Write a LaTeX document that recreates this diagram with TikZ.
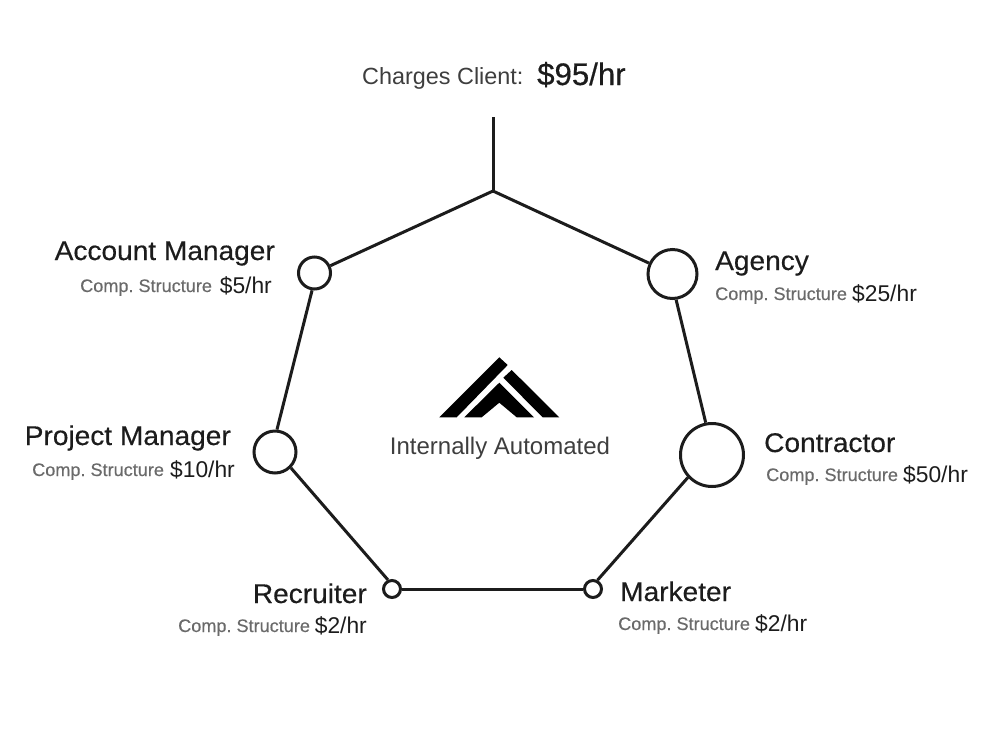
\documentclass[tikz,border=0pt]{standalone}
\usepackage{fontspec}
\setmainfont{Liberation Sans}
\newfontfamily\titlefont[FakeBold=0.35,FakeStretch=1.04]{Liberation Sans}
\newfontfamily\compfont[FakeBold=0.4]{Liberation Sans}
\newfontfamily\pricefont[FakeBold=0.5]{Liberation Sans}
\frenchspacing
\begin{document}
\begin{tikzpicture}[
  x=1pt, y=-1pt,
  %% Node styles
  stage/.style={draw=inkc, line width=3pt, fill=white, circle, inner sep=0pt},
  link/.style={draw=inkc, line width=3pt},
  title/.style={inner sep=0pt, text=inkc, font=\titlefont\fontsize{27}{30}\selectfont},
  comp/.style={inner sep=0pt, text=compc, font=\compfont\fontsize{18.1}{22}\selectfont},
  rate/.style={inner sep=0pt, text=inkc, font=\fontsize{22.8}{25}\selectfont},
  plain/.style={inner sep=0pt, text=inkc!85!white, font=\fontsize{24}{28}\selectfont},
  logopart/.style={fill=black, draw=none},
]
\definecolor{inkc}{HTML}{1C1C1C}
\definecolor{compc}{HTML}{6A6A6A}
\useasboundingbox (0,0) rectangle (999,729);

%% ── STAGES ────────────────────────────────────────────────────────────────
\coordinate (top) at (493,117);
\coordinate (apex) at (493,191);
\node[stage, minimum size=32pt] (account) at (314.5,273) {};
\node[stage, minimum size=49pt] (agency) at (672.5,274) {};
\node[stage, minimum size=63pt] (contractor) at (712,455) {};
\node[stage, minimum size=42pt] (project) at (275,452) {};
\node[stage, minimum size=17pt] (recruiter) at (392,589) {};
\node[stage, minimum size=17pt] (marketer) at (593,589) {};

%% Links
\draw[link] (top) -- (apex);
\draw[link] (apex) -- (account);
\draw[link] (apex) -- (agency);
\draw[link] (agency.-82) -- (contractor.101);
\draw[link] (contractor.-137) -- (marketer.63);
\draw[link] (marketer) -- (recruiter);
\draw[link] (recruiter.114) -- (project.-45);
\draw[link] (project.85) -- (account.-98);

%% ── HEADER ────────────────────────────────────────────────────────────────
\node[plain, anchor=base west, font=\fontsize{23.4}{28}\selectfont] (charges) at (362,84) {Charges Client:};
\node[inner sep=0pt, anchor=base west, text=inkc, font=\pricefont\fontsize{31.2}{36}\selectfont] (price) at (537,85) {\$95/hr};

%% ── LOGO ──────────────────────────────────────────────────────────────────
\fill[logopart] (499.3,357.3) -- (507.7,365) -- (456.7,417.3) -- (439.3,417.3) -- cycle;
\fill[logopart] (511.7,370) -- (559.3,417.3) -- (542.7,417.3) -- (503.3,377.7) -- cycle;
\fill[logopart] (499.3,382.7) -- (534,417.3) -- (516.7,417.3) -- (499.3,402.7) -- (481.7,417.3) -- (464.3,417.3) -- cycle;
\node[plain, anchor=base] (centre) at (500,454) {Internally Automated};

%% ── LEFT LABELS ───────────────────────────────────────────────────────────
\node[title, anchor=base east] (accountT) at (275,260) {Account Manager};
\node[comp, anchor=base west] (accountC) at (80,292) {Comp. Structure};
\node[rate, anchor=base east] (accountR) at (272,293) {\$5/hr};

\node[title, anchor=base east] (projectT) at (231,445) {Project Manager};
\node[comp, anchor=base west] (projectC) at (32,476) {Comp. Structure};
\node[rate, anchor=base east] (projectR) at (235,477) {\$10/hr};

\node[title, anchor=base east] (recruiterT) at (367,603) {Recruiter};
\node[comp, anchor=base west] (recruiterC) at (178,632) {Comp. Structure};
\node[rate, anchor=base east] (recruiterR) at (367,633) {\$2/hr};

%% ── RIGHT LABELS ──────────────────────────────────────────────────────────
\node[title, anchor=base west] (agencyT) at (715,270) {Agency};
\node[comp, anchor=base west] (agencyC) at (715,300) {Comp. Structure};
\node[rate, anchor=base west] (agencyR) at (852,301) {\$25/hr};

\node[title, anchor=base west] (contractorT) at (764,452) {Contractor};
\node[comp, anchor=base west] (contractorC) at (766,481) {Comp. Structure};
\node[rate, anchor=base west] (contractorR) at (903,482) {\$50/hr};

\node[title, anchor=base west] (marketerT) at (620,601) {Marketer};
\node[comp, anchor=base west] (marketerC) at (618,630) {Comp. Structure};
\node[rate, anchor=base west] (marketerR) at (755,631) {\$2/hr};

\end{tikzpicture}
\end{document}
